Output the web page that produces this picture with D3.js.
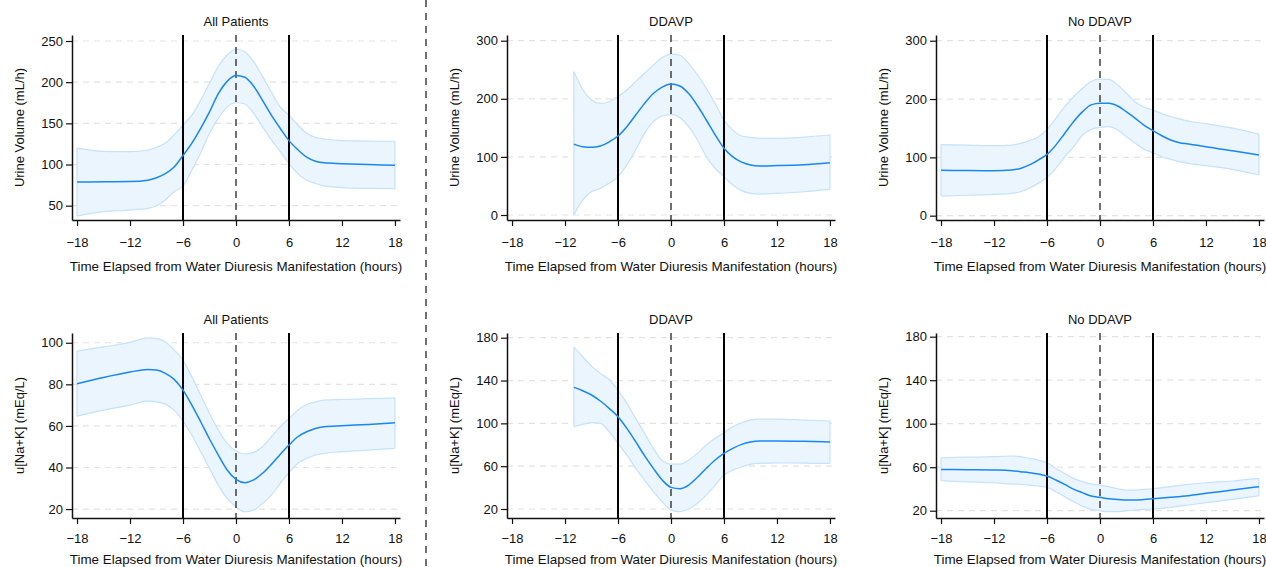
<!DOCTYPE html>
<html><head><meta charset="utf-8">
<script src="https://cdn.jsdelivr.net/npm/d3@7"></script>
<style>
html,body{margin:0;padding:0;background:#fff;}
svg{display:block;font-family:"Liberation Sans",Arial,Helvetica,sans-serif;}
</style></head>
<body><svg id="chart" width="1266" height="567"></svg>
<script>
// ---------- DATA ----------
const xTicks = [-18, -12, -6, 0, 6, 12, 18];
const xLabel = "Time Elapsed from Water Diuresis Manifestation (hours)";
const titles = ["All Patients", "DDAVP", "No DDAVP"];
const yLabels = ["Urine Volume (mL/h)", "u[Na+K] (mEq/L)"];

const yTicksUV_all = [50, 100, 150, 200, 250];
const yTicksUV_grp = [0, 100, 200, 300];
const yTicksNa_all = [20, 40, 60, 80, 100];
const yTicksNa_grp = [20, 60, 100, 140, 180];

const hoursFull = [-18,-15,-12,-10,-9,-8,-7,-6,-5,-4,-3,-2,-1,0,1,2,3,4,5,6,7,8,9,10,12,15,18];
const hoursDDAVP = [-11,-10,-9,-8,-7,-6,-5,-4,-3,-2,-1,0,1,2,3,4,5,6,7,8,9,10,12,15,18];
const hoursNoNa = [-18,-15,-12,-10,-9,-8,-7,-6,-5,-4,-3,-2,-1,0,1,2,3,4,5,6,8,10,12,15,18];

// Urine volume – all patients
const uvAllMean  = [78.7,79,79.3,81,84,89,97,111,126,144,164,186,201,208,206,195,178,160,144,129,118,109,104,102,101,100,99];
const uvAllUpper = [120,116,115.6,117.6,121,126,136,148,160,178,199,219,233,240,237,225,207,188,170,160,148,138,133,131,129,128.5,128];
const uvAllLower = [37.4,42.7,44.7,46.8,50,57,67,74,93,114,138,156,170,175,173.5,162,146,130,116,101,89,81,77,74,72,71,70.6];

// Urine volume – DDAVP
const uvDdMean  = [122,117.6,116.5,118.8,126,136,152,172,192,209,220,225.5,222,209,188,163.5,138,115,100,91,86,84.3,85,86.6,90];
const uvDdUpper = [247,216,198,192,195,204,215,229.5,244,258,271,277,275,261,241,218,192,163.5,146,136,133.7,132,132,134,137.7];
const uvDdLower = [0,26,40,46,54.5,66,86,112,140.6,160.6,170.4,173.3,168,152,129,100.4,80,66,51.6,42,37.3,36,37.3,40,44];

// Urine volume – No DDAVP
const uvNoMean  = [77.7,77.3,77,78.3,81,87,95.4,105,121,141,161,178,190,192.6,192.6,188,178,167,155,145.7,137,129.7,125,123,118,111.4,104];
const uvNoUpper = [122,121,120,121,124,128.6,135,148,167,187,204,218,230,234,233.7,224,210,195,186,181,175,170,166,162,158,150,140];
const uvNoLower = [33.7,35,36.6,38.3,41,47,55.4,65.7,81,101,118,138,148,151.4,152.6,147,135.4,124,113.7,108,101,96.6,92.6,89.7,85.7,79.4,69.7];

// u[Na+K] – all patients
const naAllMean  = [80.3,83.3,85.9,87.2,86.9,85.3,82.4,77.2,70,62,53.7,46,38.8,34.3,32.7,34,37.2,41.5,46.3,50.8,54.8,57.2,58.8,59.6,60.1,60.7,61.5];
const naAllUpper = [96,98,100.2,102.4,102,100.5,96.5,91.7,83.6,74.8,66,58,51.6,47.9,46.5,47.3,50,54.8,59.6,63.6,67.6,70.3,71.6,72.4,72.7,73.1,73.5];
const naAllLower = [64.7,67.6,70,71.9,71.6,70.5,67.6,62.3,55.6,47.6,39.6,31.5,25.1,21.1,18.7,19.5,22.7,26.7,32.3,37.5,42,44.4,46,46.8,47.6,48.4,49.2];

// u[Na+K] – DDAVP
const naDdMean  = [133.6,130.5,126.5,120.9,114,106.2,95.3,82.9,69.8,58,47.1,40.2,39,42.4,49.6,58,65.8,72,76.7,80.4,82.6,83.5,83.5,83.2,82.6];
const naDdUpper = [171,162.3,153.5,146.7,141,131,118.7,104.7,90.7,76.7,65.1,62,62,65.8,72,79.8,86,91.3,96.9,100.6,103.1,104,104,103.1,102.2];
const naDdLower = [96.9,99,100.6,100,92.2,81.3,70.4,58,47.1,36.2,26.8,19,17.5,20,25.3,33,42.4,51.7,56.4,59.5,61.7,62.6,63,62.8,62.6];

// u[Na+K] – No DDAVP
const naNoMean  = [58,57.7,57.4,56.8,55.9,55,53.8,51.9,48.2,44.2,39.9,36.6,33.5,32.3,31,30.4,29.8,29.8,30.4,31,32.3,33.8,36,39,42.1];
const naNoUpper = [68.7,69.2,69.7,70.3,69.7,68.1,66.6,64.1,58.9,54.3,49.7,46.7,44.5,43.6,42.1,40.2,39,39,39.6,40.2,42.1,44.2,45.7,47.3,49.7];
const naNoLower = [47.6,46.6,45.7,44.5,44.2,43.6,42.7,41.5,37.5,32.9,28.3,24.3,21.2,20,19.1,19.1,20,20.6,21.2,21.5,23.1,25.2,27.4,30.4,33.8];

const refSolid = [-6, 6];
const refDashed = [0];

// ---------- LAYOUT ----------
const colX = [72, 507, 936];   // y-axis line positions
const plotW = 328;
const rowTop = [35, 333];
const rowBot = [220, 518];
const tickPad = [12, 10];
const xLabelOff = [51, 46];
const xDomain = [-18.57, 18.57];

const panels = [
  {c:0,r:0,hours:hoursFull, mean:uvAllMean, up:uvAllUpper, lo:uvAllLower, ticks:yTicksUV_all, dom:[32.6,257.3]},
  {c:1,r:0,hours:hoursDDAVP,mean:uvDdMean,  up:uvDdUpper,  lo:uvDdLower,  ticks:yTicksUV_grp, dom:[-8.6,309.8]},
  {c:2,r:0,hours:hoursFull, mean:uvNoMean,  up:uvNoUpper,  lo:uvNoLower,  ticks:yTicksUV_grp, dom:[-7.4,309.8]},
  {c:0,r:1,hours:hoursFull, mean:naAllMean, up:naAllUpper, lo:naAllLower, ticks:yTicksNa_all, dom:[15.7,104.7]},
  {c:1,r:1,hours:hoursDDAVP,mean:naDdMean,  up:naDdUpper,  lo:naDdLower,  ticks:yTicksNa_grp, dom:[11.6,184.4]},
  {c:2,r:1,hours:hoursNoNa, mean:naNoMean,  up:naNoUpper,  lo:naNoLower,  ticks:yTicksNa_grp, dom:[13.3,183.4]},
];

const svg = d3.select("#chart");
const FS = 13;
const FST = 13.4;

panels.forEach(p => {
  const x0 = colX[p.c], x1 = x0 + plotW;
  const yT = rowTop[p.r], yB = rowBot[p.r];
  const x = d3.scaleLinear().domain(xDomain).range([x0, x1]);
  const y = d3.scaleLinear().domain(p.dom).range([yB, yT]);
  const g = svg.append("g");

  // grid
  g.selectAll(".grid").data(p.ticks).join("line")
    .attr("x1", x0).attr("x2", x1)
    .attr("y1", d => y(d)).attr("y2", d => y(d))
    .attr("stroke", "#e3e3e3").attr("stroke-width", 1.2).attr("stroke-dasharray", "6,5");

  const pts = p.hours.map((h, i) => ({h, m: p.mean[i], u: p.up[i], l: p.lo[i]}));
  const curve = d3.curveMonotoneX;
  g.append("path").datum(pts)
    .attr("d", d3.area().x(d => x(d.h)).y0(d => y(d.l)).y1(d => y(d.u)).curve(curve))
    .attr("fill", "#ebf5fe").attr("stroke", "none");
  ["u", "l"].forEach(k => {
    g.append("path").datum(pts)
      .attr("d", d3.line().x(d => x(d.h)).y(d => y(d[k])).curve(curve))
      .attr("fill", "none").attr("stroke", "#c6e2fb").attr("stroke-width", 1.2);
  });
  [pts[0], pts[pts.length-1]].forEach(d => {
    g.append("line").attr("x1", x(d.h)).attr("x2", x(d.h))
      .attr("y1", y(d.l)).attr("y2", y(d.u))
      .attr("stroke", "#c6e2fb").attr("stroke-width", 1.2);
  });

  // reference lines
  g.selectAll(".rs").data(refSolid).join("line")
    .attr("x1", d => x(d)).attr("x2", d => x(d)).attr("y1", yT).attr("y2", yB)
    .attr("stroke", "#000").attr("stroke-width", 2);
  g.selectAll(".rd").data(refDashed).join("line")
    .attr("x1", d => x(d)).attr("x2", d => x(d)).attr("y1", yT).attr("y2", yB)
    .attr("stroke", "#333").attr("stroke-width", 1.4).attr("stroke-dasharray", "7,5");

  // mean line
  g.append("path").datum(pts)
    .attr("d", d3.line().x(d => x(d.h)).y(d => y(d.m)).curve(curve))
    .attr("fill", "none").attr("stroke", "#1887f5").attr("stroke-width", 1.5);

  // axes
  const ya = d3.axisLeft(y).tickValues(p.ticks).tickSize(6).tickPadding(3).tickSizeOuter(0);
  const yg = g.append("g").attr("transform", `translate(${x0},0)`).call(ya);
  const xa = d3.axisBottom(x).tickValues(xTicks).tickSize(6).tickPadding(tickPad[p.r]).tickSizeOuter(0);
  const xg = g.append("g").attr("transform", `translate(0,${yB})`).call(xa);
  [yg, xg].forEach(a => {
    a.selectAll("text").attr("font-size", FS).attr("fill", "#111").attr("font-family", "Liberation Sans, Arial, sans-serif");
    a.selectAll("line").attr("stroke", "#111").attr("stroke-width", 1.2);
    a.select(".domain").attr("stroke", "#111").attr("stroke-width", 1.5);
  });

  // titles
  g.append("text").attr("x", x(0)).attr("y", yT - 9).attr("text-anchor", "middle")
    .attr("font-size", FS).attr("fill", "#111").text(titles[p.c]);
  g.append("text").attr("x", x(0)).attr("y", yB + xLabelOff[p.r]).attr("text-anchor", "middle")
    .attr("font-size", FST).attr("fill", "#111").text(xLabel);
  g.append("text")
    .attr("transform", `translate(${x0 - 48},${(yT + yB) / 2}) rotate(-90)`)
    .attr("text-anchor", "middle").attr("font-size", FS).attr("fill", "#111")
    .text(yLabels[p.r]);
});

// divider
svg.append("line").attr("x1", 426).attr("x2", 426).attr("y1", 0).attr("y2", 567)
  .attr("stroke", "#111").attr("stroke-width", 1.2).attr("stroke-dasharray", "7,6");
</script></body></html>
